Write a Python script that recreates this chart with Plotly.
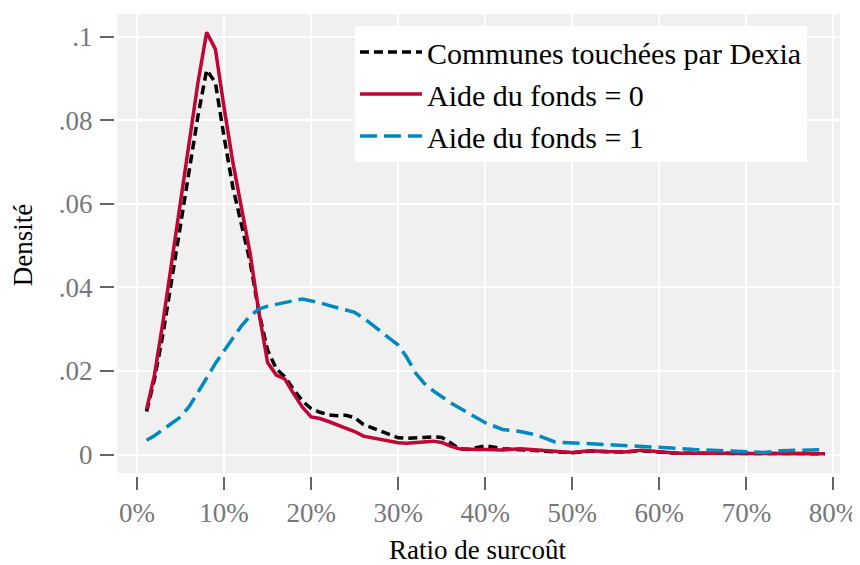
import plotly.graph_objects as go

# Ratio de surcoût (en fraction), grille commune aux trois courbes
ratio = [0.011, 0.02, 0.03, 0.04, 0.05, 0.06, 0.07, 0.08, 0.09, 0.10,
         0.11, 0.12, 0.13, 0.14, 0.15, 0.16, 0.17, 0.18, 0.19, 0.20,
         0.21, 0.22, 0.23, 0.24, 0.25, 0.26, 0.27, 0.28, 0.29, 0.30,
         0.31, 0.32, 0.33, 0.34, 0.35, 0.36, 0.37, 0.38, 0.39, 0.40,
         0.42, 0.44, 0.46, 0.48, 0.50, 0.52, 0.54, 0.56, 0.58, 0.60,
         0.62, 0.64, 0.66, 0.68, 0.70, 0.72, 0.74, 0.76, 0.78, 0.79]

dens_dexia = [0.0103, 0.018, 0.029, 0.042, 0.056, 0.069, 0.081, 0.092, 0.089, 0.076,
              0.064, 0.055, 0.046, 0.034, 0.025, 0.0205, 0.0185, 0.0155, 0.0128, 0.011,
              0.0101, 0.0095, 0.0093, 0.0094, 0.0088, 0.0072, 0.0064, 0.0055, 0.0047, 0.004,
              0.0039, 0.0039, 0.0041, 0.0042, 0.0041, 0.0028, 0.0014, 0.0012, 0.0017, 0.0021,
              0.0014, 0.0012, 0.0009, 0.0007, 0.0004, 0.0008, 0.0007, 0.0006, 0.0009, 0.0006,
              0.0003, 0.0003, 0.0003, 0.0003, 0.0004, 0.0003, 0.0002, 0.0002, 0.0002, 0.0002]

dens_aide0 = [0.0108, 0.019, 0.032, 0.046, 0.061, 0.075, 0.089, 0.101, 0.097, 0.083,
              0.070, 0.059, 0.048, 0.034, 0.022, 0.019, 0.018, 0.0145, 0.0113, 0.009,
              0.0086, 0.0079, 0.0071, 0.0064, 0.0055, 0.0044, 0.004, 0.0036, 0.0031, 0.0028,
              0.0027, 0.0028, 0.0029, 0.0032, 0.0029, 0.002, 0.0014, 0.0012, 0.0012, 0.0012,
              0.0011, 0.0014, 0.001, 0.0008, 0.0005, 0.0009, 0.0007, 0.0006, 0.001, 0.0007,
              0.0003, 0.0003, 0.0003, 0.0003, 0.0004, 0.0003, 0.0002, 0.0002, 0.0002, 0.0002]

dens_aide1 = [0.0034, 0.0045, 0.006, 0.0075, 0.009, 0.0115, 0.0148, 0.0183, 0.0218, 0.0248,
              0.028, 0.0308, 0.0332, 0.0348, 0.0355, 0.036, 0.0364, 0.0368, 0.0372, 0.0368,
              0.0363, 0.0357, 0.0351, 0.0346, 0.034, 0.0327, 0.031, 0.0294, 0.0278, 0.0262,
              0.0232, 0.0195, 0.017, 0.0153, 0.0138, 0.0124, 0.0112, 0.0099, 0.0088, 0.0076,
              0.006, 0.0055, 0.0046, 0.003, 0.0028, 0.0027, 0.0025, 0.0023, 0.0021, 0.0018,
              0.0015, 0.0012, 0.001, 0.0008, 0.0006, 0.0005, 0.0009, 0.0011, 0.0012, 0.0012]

x_ticks = [0, 0.1, 0.2, 0.3, 0.4, 0.5, 0.6, 0.7, 0.8]
y_ticks = [0, 0.02, 0.04, 0.06, 0.08, 0.1]
y_labels = ["0", ".02", ".04", ".06", ".08", ".1"]

FONT = "Liberation Serif"
SIZE = 27
RED = "#c10534"
BLUE = "#0089bf"

fig = go.Figure()
fig.add_trace(go.Scatter(x=ratio, y=dens_dexia, mode="lines", name="Communes touchées par Dexia",
                         line=dict(color="black", width=3.5, dash="9px,5px")))
fig.add_trace(go.Scatter(x=ratio, y=dens_aide0, mode="lines", name="Aide du fonds = 0",
                         line=dict(color=RED, width=3.5)))
fig.add_trace(go.Scatter(x=ratio, y=dens_aide1, mode="lines", name="Aide du fonds = 1",
                         line=dict(color=BLUE, width=3.5, dash="17px,7px")))

# gray plot region, slightly detached from the tick marks
fig.add_shape(type="rect", xref="paper", yref="paper", x0=0.003, x1=1, y0=0.0065, y1=1,
              fillcolor="#f0f0f0", line_width=0, layer="below")

# page body has an 8px margin, so the figure is 8px smaller than the window
fig.update_layout(
    width=852, height=557,
    margin=dict(l=107, r=20, t=6, b=89, autoexpand=False),
    paper_bgcolor="white", plot_bgcolor="rgba(0,0,0,0)",
    font=dict(family=FONT, size=SIZE, color="black"),
    showlegend=True,
    legend=dict(x=0.331, y=0.974, xanchor="left", yanchor="top",
                bgcolor="white", borderwidth=0, font=dict(size=30),
                tracegroupgap=0, itemwidth=62),
)
fig.update_xaxes(
    range=[-0.0253, 0.8075], tickvals=x_ticks, tickformat=".0%", automargin=False,
    showgrid=True, gridcolor="white", gridwidth=2, zeroline=False, showline=False,
    ticks="outside", ticklen=13, tickwidth=2, tickcolor="#666666",
    tickfont=dict(color="#777777", size=SIZE), ticklabelstandoff=0,
    title=dict(text="Ratio de surcoût", standoff=16, font=dict(size=SIZE)),
)
fig.update_yaxes(
    range=[-0.00514, 0.1054], tickvals=y_ticks, ticktext=y_labels, automargin=False,
    showgrid=True, gridcolor="white", gridwidth=2, zeroline=False, showline=False,
    ticks="outside", ticklen=14, tickwidth=2, tickcolor="#666666",
    tickfont=dict(color="#777777", size=SIZE), ticklabelstandoff=2,
    title=dict(text="Densité", standoff=18, font=dict(size=SIZE)),
)

fig.write_html("out.html")
